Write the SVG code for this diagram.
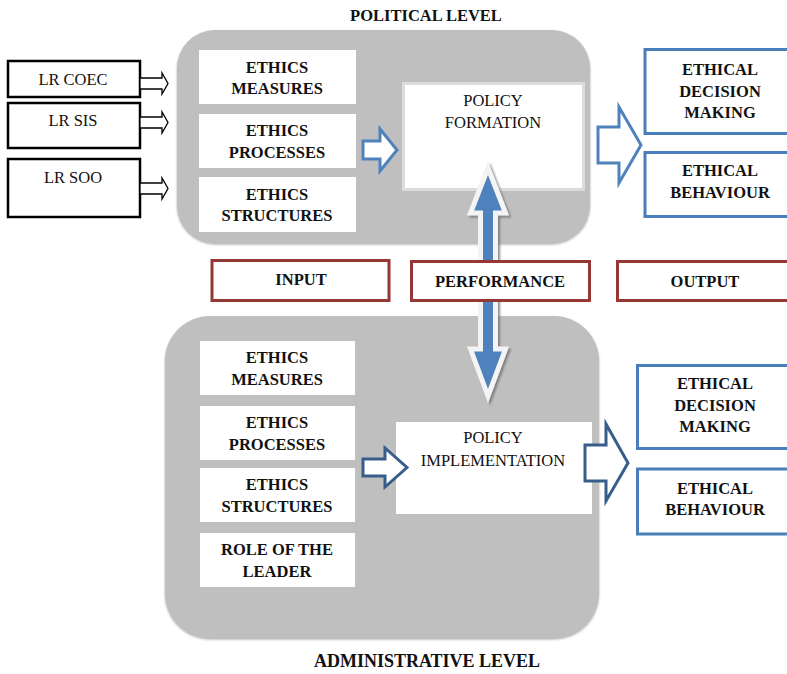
<svg xmlns="http://www.w3.org/2000/svg" width="787" height="674" viewBox="0 0 787 674">
<defs>
<style>
text{font-family:"Liberation Serif",Tinos,"Times New Roman",Times,"Noto Serif","DejaVu Serif",FreeSerif,serif;fill:#111;text-anchor:middle}
.b{font-weight:bold;font-size:16.5px}
.r{font-size:16.5px}
.panel{fill:#bfbfbf}
.wbox{fill:#fff}
.lr{fill:#fff;stroke:#000;stroke-width:2.5}
.lab{fill:#fff;stroke:#953735;stroke-width:3}
.out{fill:#fff;stroke:#4a7ebb;stroke-width:3}
.ha{fill:#fff;stroke:#000;stroke-width:1.3}
.ab{fill:#fff;stroke:#4f81bd;stroke-width:3}
.ad{fill:#fff;stroke:#385d8a;stroke-width:3}
</style>
<filter id="sh" x="-20%" y="-20%" width="140%" height="140%">
<feDropShadow dx="2" dy="2" stdDeviation="1" flood-color="#6f6f6f" flood-opacity="0.8"/>
</filter>
<filter id="psh" x="-5%" y="-5%" width="110%" height="110%">
<feDropShadow dx="0" dy="1.5" stdDeviation="1" flood-color="#8a8a8a" flood-opacity="0.7"/>
</filter>
</defs>

<text class="b" x="426" y="21" font-family="Liberation Serif, serif">POLITICAL LEVEL</text>
<text class="b" x="427" y="667" style="font-size:18px">ADMINISTRATIVE LEVEL</text>

<g id="political-panel">
<rect class="panel" x="177" y="30" width="413" height="213" rx="38" filter="url(#psh)"/>
</g>
<g id="administrative-panel">
<rect class="panel" x="165" y="316" width="434" height="322" rx="45" filter="url(#psh)"/>
</g>

<g id="lr-coec"><rect class="lr" x="8" y="61" width="132" height="36"/><text class="r" x="73" y="85">LR COEC</text></g>
<g id="lr-sis"><rect class="lr" x="8" y="103" width="132" height="45"/><text class="r" x="73" y="126">LR SIS</text></g>
<g id="lr-soo"><rect class="lr" x="8" y="159" width="132" height="58"/><text class="r" x="73" y="183">LR SOO</text></g>

<g id="p-measures"><rect class="wbox" x="199" y="50" width="157" height="54"/><text class="b" x="277" y="72.5">ETHICS</text><text class="b" x="277" y="94">MEASURES</text></g>
<g id="p-processes"><rect class="wbox" x="199" y="114" width="157" height="54"/><text class="b" x="277" y="136">ETHICS</text><text class="b" x="277" y="158">PROCESSES</text></g>
<g id="p-structures"><rect class="wbox" x="199" y="177" width="157" height="55"/><text class="b" x="277" y="199.5">ETHICS</text><text class="b" x="277" y="221">STRUCTURES</text></g>

<g id="policy-formation"><rect x="403.5" y="83.5" width="180" height="106" fill="#fff" stroke="#dcdcdc" stroke-width="3"/><text class="r" x="493" y="106">POLICY</text><text class="r" x="493" y="128">FORMATION</text></g>

<g id="top-decision"><rect class="out" x="645" y="49.5" width="150" height="84"/><text class="b" x="720" y="75">ETHICAL</text><text class="b" x="720" y="96.5">DECISION</text><text class="b" x="720" y="118">MAKING</text></g>
<g id="top-behaviour"><rect class="out" x="645" y="152.5" width="150" height="64"/><text class="b" x="720" y="176">ETHICAL</text><text class="b" x="720" y="198">BEHAVIOUR</text></g>

<g id="input"><rect class="lab" x="212" y="260.5" width="177" height="40"/><text class="b" x="301" y="285">INPUT</text></g>
<g id="output"><rect class="lab" x="617.5" y="261.5" width="180" height="39"/><text class="b" x="705" y="287">OUTPUT</text></g>

<g id="a-measures"><rect class="wbox" x="200" y="341" width="155" height="54"/><text class="b" x="277" y="363">ETHICS</text><text class="b" x="277" y="385">MEASURES</text></g>
<g id="a-processes"><rect class="wbox" x="200" y="406" width="155" height="54"/><text class="b" x="277" y="428">ETHICS</text><text class="b" x="277" y="450">PROCESSES</text></g>
<g id="a-structures"><rect class="wbox" x="200" y="468" width="155" height="54"/><text class="b" x="277" y="490">ETHICS</text><text class="b" x="277" y="512">STRUCTURES</text></g>
<g id="a-leader"><rect class="wbox" x="200" y="533" width="155" height="54"/><text class="b" x="277" y="555">ROLE OF THE</text><text class="b" x="277" y="577">LEADER</text></g>

<g id="policy-implementation"><rect class="wbox" x="396" y="422" width="196" height="92"/><text class="r" x="493" y="443">POLICY</text><text class="r" x="493" y="466">IMPLEMENTATION</text></g>

<g id="bottom-decision"><rect class="out" x="637.5" y="365.5" width="160" height="83"/><text class="b" x="715" y="389">ETHICAL</text><text class="b" x="715" y="411">DECISION</text><text class="b" x="715" y="432">MAKING</text></g>
<g id="bottom-behaviour"><rect class="out" x="637.5" y="469" width="160" height="65"/><text class="b" x="715" y="494">ETHICAL</text><text class="b" x="715" y="515">BEHAVIOUR</text></g>

<g id="connectors">
<polygon class="ha" points="140,78 162,78 162,73 168,83.5 162,94 162,89 140,89"/>
<polygon class="ha" points="140,117 162,117 162,112 168,122.5 162,133 162,128 140,128"/>
<polygon class="ha" points="140,183 162,183 162,178 168,188.5 162,199 162,194 140,194"/>
<polygon class="ab" points="363,141 380,141 380,129 397,150 380,171 380,159 363,159"/>
<polygon class="ab" points="598,127 619,127 619,107 641,145 619,183 619,163 598,163"/>
<polygon class="ad" points="363,459 385,459 385,448 407,467.5 385,487 385,476 363,476"/>
<polygon class="ad" points="585,445 606,445 606,424 628,463 606,501 606,481 585,481"/>
<polygon points="488,168 505.5,213 495.5,213 495.5,349 505.5,349 488,396 470.5,349 480.5,349 480.5,213 470.5,213" fill="#4f81bd" stroke="#f4f4f4" stroke-width="5" filter="url(#sh)"/>
</g>

<g id="performance"><rect class="lab" x="411.5" y="261.5" width="178" height="39"/><text class="b" x="500" y="287">PERFORMANCE</text></g>
</svg>
